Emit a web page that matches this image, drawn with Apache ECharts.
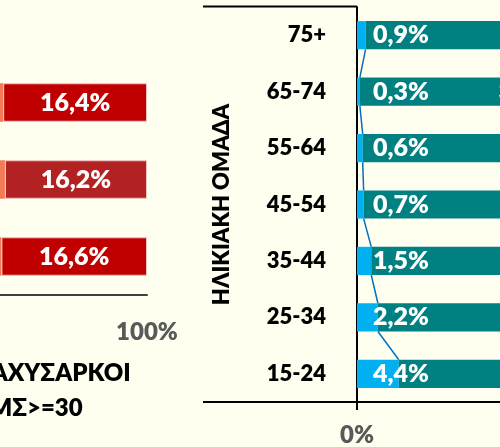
<!DOCTYPE html>
<html>
<head>
<meta charset="utf-8">
<script src="https://cdn.jsdelivr.net/npm/echarts@6/dist/echarts.min.js"></script>
<style>
  html, body { margin: 0; padding: 0; background: #FFFFF0; }
  #main { width: 500px; height: 447px; }
</style>
</head>
<body>
<div id="main"></div>
<script>
// left chart: BMI groups per population group (only the right end is in view)
var groups = ['ΓΥΝΑΙΚΕΣ', 'ΑΝΔΡΕΣ', 'ΣΥΝΟΛΟ'];       // bottom -> top
var grpUnder = [1.5, 1.9, 1.7];
var grpNormal = [40.2, 41.5, 40.6];
var grpOver = [41.7, 40.4, 41.3];
var grpObese = [16.6, 16.2, 16.4];

// right chart: age groups
var ages = ['15-24', '25-34', '35-44', '45-54', '55-64', '65-74', '75+'];
var ageUnder = [4.4, 2.2, 1.5, 0.7, 0.6, 0.3, 0.9];
var ageNormal = [70.5, 61.8, 52.3, 44.5, 38.1, 36.6, 39.6];

var FONT = 'Lato, "Open Sans", sans-serif';
var W = 800;

function pct(v) {
    return v.toFixed(1).replace('.', ',') + '%';
}

var myChart = echarts.init(document.getElementById('main'));

var option = {
    backgroundColor: '#FFFFF0',
    animation: false,
    textStyle: { fontFamily: FONT },
    grid: [
        { left: -730, right: 353, top: 64, bottom: 152, outerBoundsMode: 'none' },
        { left: 357, right: -807, top: 7, bottom: 45, outerBoundsMode: 'none' }
    ],
    xAxis: [{
        gridIndex: 0, type: 'value', min: 0, max: 100, interval: 100,
        axisLine: { show: true, lineStyle: { color: '#404040', width: 2 } },
        axisTick: { show: false },
        splitLine: { show: false },
        axisLabel: {
            margin: 25, color: '#595959', fontSize: 24, fontWeight: W,
            formatter: function (v) { return v + '%'; }
        }
    }, {
        gridIndex: 1, type: 'value', min: 0, max: 100, interval: 100,
        axisLine: { show: true, lineStyle: { color: '#000', width: 2 } },
        axisTick: { show: true, length: 8, lineStyle: { color: '#000', width: 2 } },
        splitLine: { show: false },
        axisLabel: {
            margin: 21, color: '#595959', fontSize: 24, fontWeight: W,
            formatter: function (v) { return v + '%'; }
        }
    }],
    yAxis: [{
        gridIndex: 0, type: 'category', data: groups,
        axisLine: { show: false }, axisTick: { show: false },
        axisLabel: { show: false }
    }, {
        gridIndex: 1, type: 'category', data: ages,
        name: 'ΗΛΙΚΙΑΚΗ ΟΜΑΔΑ', nameLocation: 'middle', nameRotate: 90, nameGap: 124,
        nameTextStyle: { fontSize: 22, fontWeight: W, color: '#000' },
        axisLine: { show: true, lineStyle: { color: '#000', width: 2 } },
        axisTick: { show: false },
        axisLabel: { margin: 31, fontSize: 22, fontWeight: W, color: '#000' }
    }],
    series: [{
        name: 'ΛΙΠΟΒΑΡΕΙΣ', type: 'bar', stack: 'g', barWidth: '50%',
        xAxisIndex: 0, yAxisIndex: 0, data: grpUnder,
        itemStyle: { color: '#00B0F0' }
    }, {
        name: 'ΦΥΣΙΟΛΟΓΙΚΟ ΒΑΡΟΣ', type: 'bar', stack: 'g',
        xAxisIndex: 0, yAxisIndex: 0, data: grpNormal,
        itemStyle: { color: '#008080' }
    }, {
        name: 'ΥΠΕΡΒΑΡΟΙ', type: 'bar', stack: 'g',
        xAxisIndex: 0, yAxisIndex: 0, data: grpOver,
        itemStyle: { color: '#F47A55' }
    }, {
        name: 'ΠΑΧΥΣΑΡΚΟΙ', type: 'bar', stack: 'g',
        xAxisIndex: 0, yAxisIndex: 0,
        data: grpObese.map(function (v, i) {
            return { value: v, itemStyle: { color: i === 1 ? '#B22222' : '#C00000' } };
        }),
        itemStyle: { borderColor: '#F2C4C4', borderWidth: 1 },
        label: {
            show: true, position: 'inside', color: '#fff', fontSize: 25, fontWeight: W,
            formatter: function (p) { return pct(p.value); }
        }
    }, {
        name: 'ΛΙΠΟΒΑΡΕΙΣ', type: 'bar', stack: 'a', barWidth: '50%',
        xAxisIndex: 1, yAxisIndex: 1, data: ageUnder,
        itemStyle: { color: '#00B0F0' },
        label: {
            show: true, position: 'insideLeft', distance: 16, color: '#fff',
            fontSize: 25, fontWeight: W,
            formatter: function (p) { return pct(p.value); }
        }
    }, {
        name: 'ΦΥΣΙΟΛΟΓΙΚΟ ΒΑΡΟΣ', type: 'bar', stack: 'a',
        xAxisIndex: 1, yAxisIndex: 1, data: ageNormal,
        itemStyle: { color: '#008080' },
        label: {
            show: true, position: 'inside', color: '#fff', fontSize: 25, fontWeight: W,
            formatter: function (p) { return pct(p.value); }
        }
    }, {
        // series lines joining the ends of the underweight segments
        type: 'custom', xAxisIndex: 1, yAxisIndex: 1, z: 1,
        data: ageUnder.map(function (v, i) { return [v, i]; }),
        renderItem: function (params, api) {
            var i = params.dataIndex;
            if (i >= ageUnder.length - 1) return;
            var h = api.size([0, 1])[1] * 0.5;
            var p1 = api.coord([ageUnder[i], i]);
            var p2 = api.coord([ageUnder[i + 1], i + 1]);
            return {
                type: 'line',
                shape: { x1: p1[0], y1: p1[1] - h / 2, x2: p2[0], y2: p2[1] + h / 2 },
                style: { stroke: '#0070C0', lineWidth: 1.5 }
            };
        }
    }],
    graphic: [
        { type: 'line', shape: { x1: 203, y1: 6.5, x2: 357, y2: 6.5 }, style: { stroke: '#000', lineWidth: 2 } },
        { type: 'line', shape: { x1: 203, y1: 402, x2: 357, y2: 402 }, style: { stroke: '#000', lineWidth: 2 } },
        {
            type: 'text', left: -28, top: 356,
            style: {
                text: 'ΠΑΧΥΣΑΡΚΟΙ\nΔΜΣ>=30', fill: '#000', font: W + ' 24px ' + FONT,
                lineHeight: 35
            }
        }
    ]
};

myChart.setOption(option);
</script>
</body>
</html>
